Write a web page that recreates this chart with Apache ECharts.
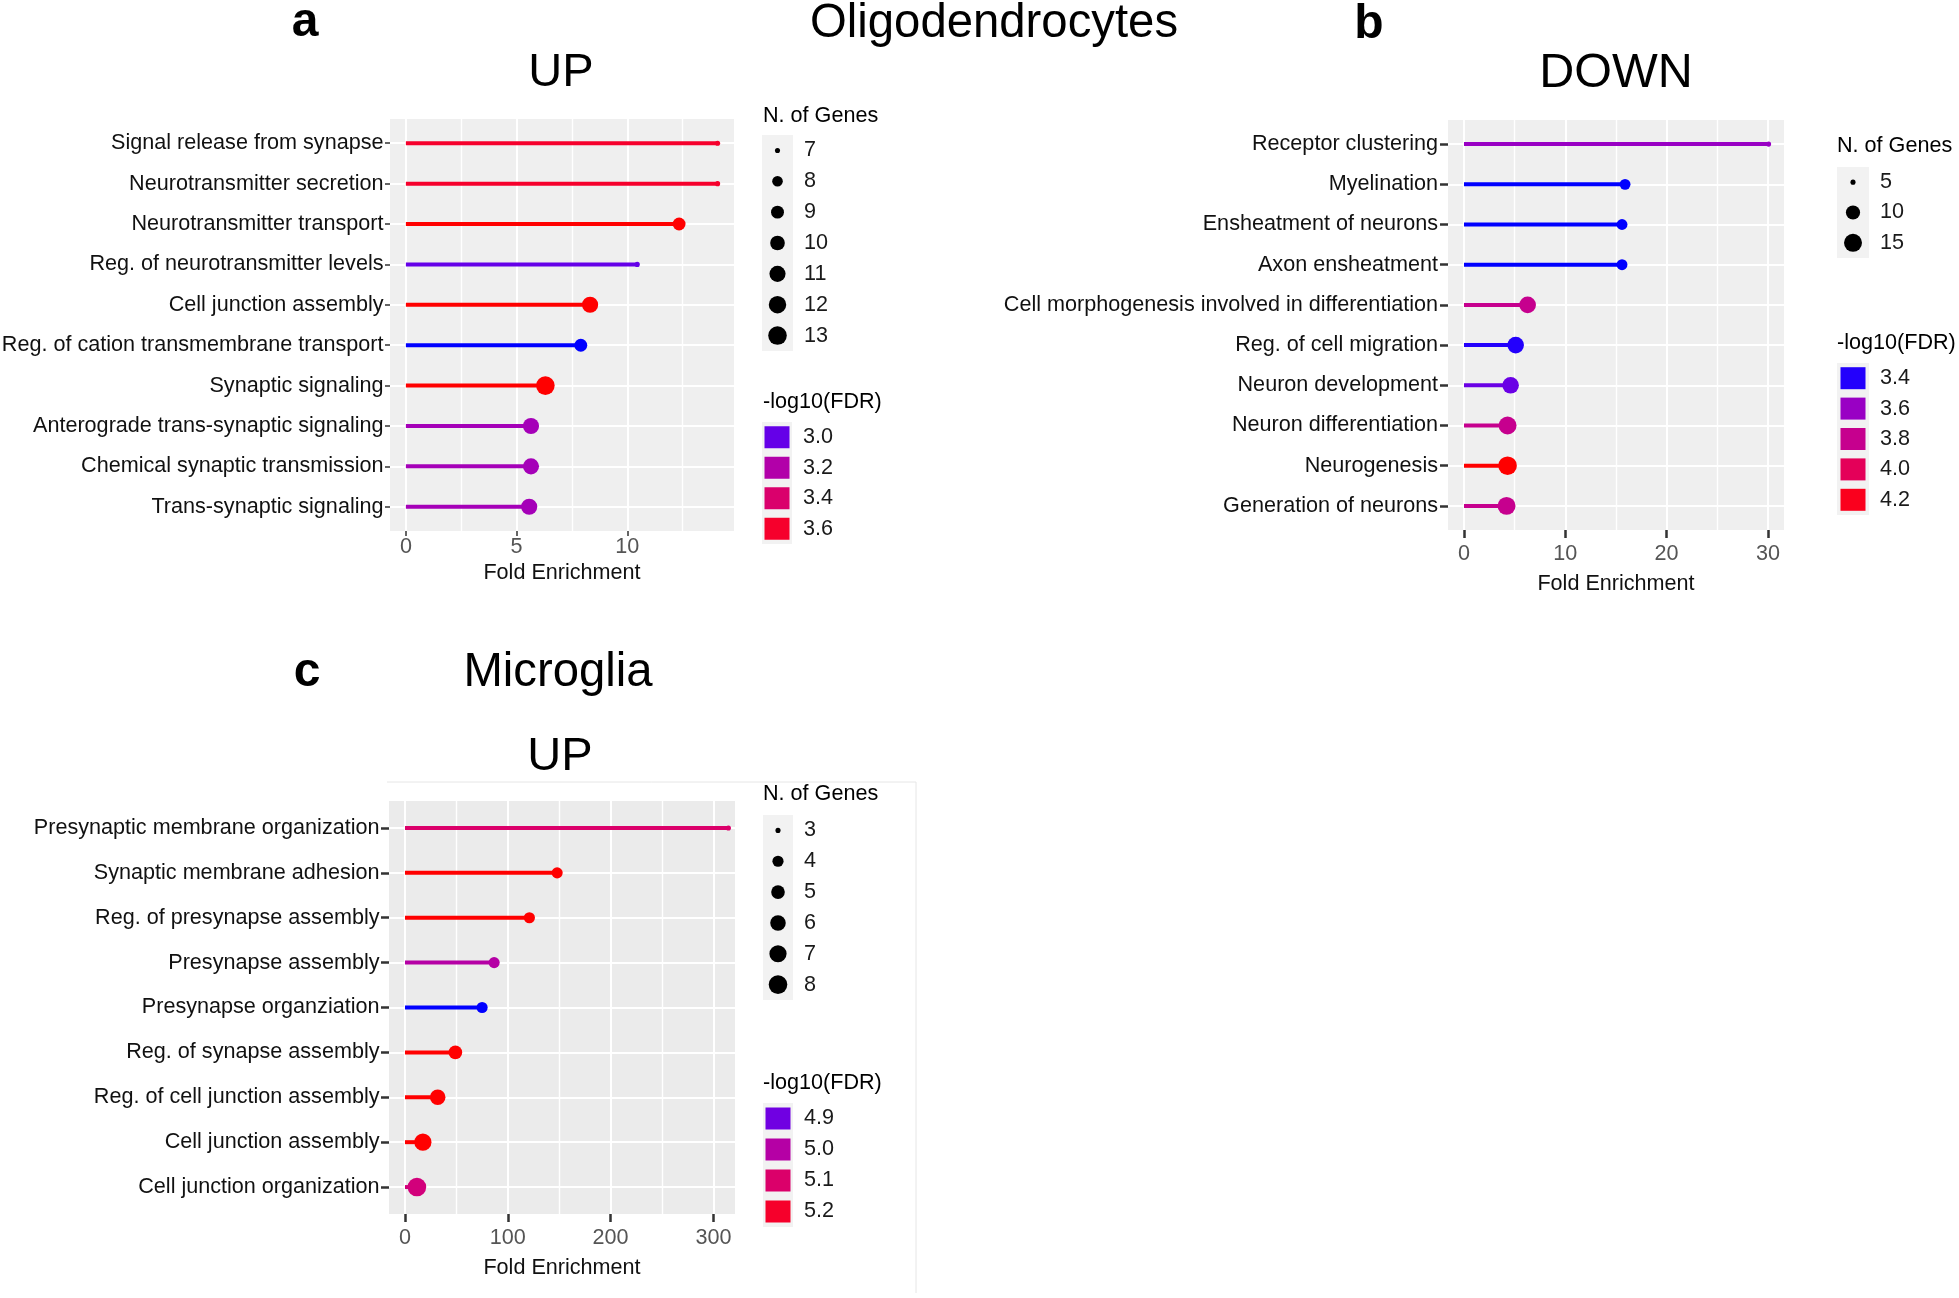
<!DOCTYPE html>
<html><head><meta charset="utf-8">
<script src="https://cdn.jsdelivr.net/npm/echarts@6/dist/echarts.min.js"></script>
<style>html,body{margin:0;padding:0;background:#fff}#c{width:1959px;height:1298px}</style>
</head><body><div id="c"></div>
<script>
// ---------- DATA ----------
// Panel a: Oligodendrocytes UP
const aTerms = ["Signal release from synapse","Neurotransmitter secretion","Neurotransmitter transport","Reg. of neurotransmitter levels","Cell junction assembly","Reg. of cation transmembrane transport","Synaptic signaling","Anterograde trans-synaptic signaling","Chemical synaptic transmission","Trans-synaptic signaling"];
const aFold  = [14.08, 14.08, 12.34, 10.45, 8.32, 7.9, 6.3, 5.65, 5.65, 5.57];
const aGenes = [7, 7, 9, 7, 11, 9, 13, 11, 11, 11];
const aFdr   = [3.6, 3.6, 3.68, 3.0, 3.68, 2.93, 3.68, 3.15, 3.15, 3.15];
const aSizeBreaks  = [7, 8, 9, 10, 11, 12, 13];
const aColorBreaks = [3.0, 3.2, 3.4, 3.6];
const aMajor = [0, 5, 10];
const aMinor = [2.5, 7.5, 12.5];

// Panel b: Oligodendrocytes DOWN
const bTerms = ["Receptor clustering","Myelination","Ensheatment of neurons","Axon ensheatment","Cell morphogenesis involved in differentiation","Reg. of cell migration","Neuron development","Neuron differentiation","Neurogenesis","Generation of neurons"];
const bFold  = [30.07, 15.9, 15.6, 15.6, 6.28, 5.1, 4.6, 4.3, 4.3, 4.2];
const bGenes = [5, 7, 7, 7, 13, 13, 13, 15, 16, 15];
const bFdr   = [3.6, 3.39, 3.39, 3.39, 3.8, 3.4, 3.48, 3.8, 4.25, 3.8];
const bSizeBreaks  = [5, 10, 15];
const bColorBreaks = [3.4, 3.6, 3.8, 4.0, 4.2];
const bMajor = [0, 10, 20, 30];
const bMinor = [5, 15, 25];

// Panel c: Microglia UP
const cTerms = ["Presynaptic membrane organization","Synaptic membrane adhesion","Reg. of presynapse assembly","Presynapse assembly","Presynapse organziation","Reg. of synapse assembly","Reg. of cell junction assembly","Cell junction assembly","Cell junction organization"];
const cFold  = [314.6, 148, 121, 86.7, 75, 49, 31.8, 17.4, 11.6];
const cGenes = [3, 4, 4, 4, 4, 5, 6, 7, 8];
const cFdr   = [5.1, 5.24, 5.24, 5.0, 4.855, 5.24, 5.24, 5.24, 5.07];
const cSizeBreaks  = [3, 4, 5, 6, 7, 8];
const cColorBreaks = [4.9, 5.0, 5.1, 5.2];
const cMajor = [0, 100, 200, 300];
const cMinor = [50, 150, 250];

// ---------- HELPERS ----------
const FONT = 'Liberation Sans, Arial, Helvetica, sans-serif';
function lin(c){c/=255;return c<=0.04045?c/12.92:Math.pow((c+0.055)/1.055,2.4);}
function gam(c){c=c<=0.0031308?12.92*c:1.055*Math.pow(Math.max(c,0),1/2.4)-0.055;return Math.round(Math.max(0,Math.min(1,c))*255);}
function toLab(rgb){
  const R=lin(rgb[0]),G=lin(rgb[1]),B=lin(rgb[2]);
  const X=(0.4124564*R+0.3575761*G+0.1804375*B)/0.95047;
  const Y=(0.2126729*R+0.7151522*G+0.0721750*B);
  const Z=(0.0193339*R+0.1191920*G+0.9503041*B)/1.08883;
  const f=t=>t>0.008856?Math.cbrt(t):7.787*t+16/116;
  const fx=f(X),fy=f(Y),fz=f(Z);
  return [116*fy-16,500*(fx-fy),200*(fy-fz)];
}
function fromLab(L,a,b){
  const fy=(L+16)/116, fx=fy+a/500, fz=fy-b/200;
  const inv=t=>{const t3=t*t*t;return t3>0.008856?t3:(t-16/116)/7.787;};
  const X=0.95047*inv(fx),Y=inv(fy),Z=1.08883*inv(fz);
  const R=3.2404542*X-1.5371385*Y-0.4985314*Z;
  const G=-0.9692660*X+1.8760108*Y+0.0415560*Z;
  const B=0.0556434*X-0.2040259*Y+1.0572252*Z;
  return 'rgb('+gam(R)+','+gam(G)+','+gam(B)+')';
}
const LOW=toLab([0,0,255]), HIGH=toLab([255,0,0]);
function fdrColor(v,lim){
  let t=(v-lim[0])/(lim[1]-lim[0]); t=Math.max(0,Math.min(1,t));
  return fromLab(LOW[0]+(HIGH[0]-LOW[0])*t, LOW[1]+(HIGH[1]-LOW[1])*t, LOW[2]+(HIGH[2]-LOW[2])*t);
}
function dotSize(g,lim){
  const t=Math.max(0,(g-lim[0])/(lim[1]-lim[0]));
  return 2.7*(1+5*Math.sqrt(t))+2.4;
}
function range(arr){return [Math.min.apply(null,arr),Math.max.apply(null,arr)];}

const grids=[], xAxes=[], yAxes=[], series=[];
const LBL=21.6;

function addPanel(p){
  const gi=grids.length;
  grids.push({left:p.box[0],top:p.box[1],width:p.box[2],height:p.box[3],show:true,backgroundColor:p.bg,borderWidth:0,containLabel:false,outerBoundsMode:'none'});
  const xi=xAxes.length;
  const n=p.terms.length;
  const idx=p.terms.map((t,i)=>i+1);
  xAxes.push({type:'value',gridIndex:gi,min:p.xmin,max:p.xmax,
    axisLine:{show:false,onZero:false},
    axisTick:{show:true,length:p.tickLen,lineStyle:{color:'#333',width:p.tickW},customValues:p.major},
    axisLabel:{customValues:p.major,margin:p.xLabelMargin,fontSize:LBL,color:'#555',fontFamily:FONT},
    splitLine:{show:true,lineStyle:{color:'#ffffff',width:2}},
    name:'Fold Enrichment',nameLocation:'middle',nameGap:p.nameGap,nameMoveOverlap:false,
    nameTextStyle:{fontSize:LBL,color:'#111',fontFamily:FONT}});
  xAxes.push({type:'value',gridIndex:gi,min:p.xmin,max:p.xmax,
    axisLine:{show:false,onZero:false},
    axisTick:{show:false,customValues:p.minor},
    axisLabel:{show:false,customValues:p.minor},
    splitLine:{show:true,lineStyle:{color:'#ffffff',width:1.4}}});
  const yi=yAxes.length;
  yAxes.push({type:'value',gridIndex:gi,min:0.4,max:n+0.6,inverse:true,
    axisLine:{show:false,onZero:false},
    axisTick:{show:true,length:p.tickLen,lineStyle:{color:'#333',width:p.tickW},customValues:idx},
    axisLabel:{customValues:idx,formatter:v=>p.terms[Math.round(v)-1]||'',margin:p.yLabelMargin,fontSize:LBL,color:'#111',fontFamily:FONT},
    splitLine:{show:true,lineStyle:{color:'#ffffff',width:2}}});
  const data=p.terms.map((t,i)=>[p.fold[i],i+1,p.genes[i],p.fdr[i]]);
  const clim=range(p.fdr), slim=range(p.genes);
  series.push({type:'custom',xAxisIndex:xi,yAxisIndex:yi,data:data,encode:{x:0,y:1},silent:true,z:3,
    renderItem:(params,api)=>{
      const v=api.value(0), y=api.value(1), f=api.value(3);
      const p0=api.coord([0,y]), p1=api.coord([v,y]);
      return {type:'line',shape:{x1:p0[0],y1:p0[1],x2:p1[0],y2:p1[1]},style:{stroke:fdrColor(f,clim),lineWidth:4}};
    }});
  series.push({type:'scatter',xAxisIndex:xi,yAxisIndex:yi,data:data,z:4,silent:true,
    symbol:'circle',symbolSize:v=>dotSize(v[2],slim),
    itemStyle:{color:pp=>fdrColor(pp.value[3],clim),opacity:1}});
  addLegend(p.sizeBreaks.map(String), p.sizeBreaks.map(b=>dotSize(b,slim)), p.sizeBreaks.map(()=> '#000'), 'circle', p.sizeBox);
  addLegend(p.colorBreaks.map(b=>b.toFixed(1)), p.colorBreaks.map(()=>[25,22]), p.colorBreaks.map(b=>fdrColor(b,clim)), 'rect', p.colorBox);
}

function addLegend(labels,sizes,colors,symbol,box){
  const gi=grids.length;
  grids.push({left:box[0],top:box[1],width:box[2],height:box[3],show:true,backgroundColor:'#f2f2f2',borderWidth:0,containLabel:false,outerBoundsMode:'none'});
  const xi=xAxes.length, yi=yAxes.length;
  xAxes.push({type:'value',gridIndex:gi,min:0,max:1,show:false});
  yAxes.push({type:'category',gridIndex:gi,data:labels,inverse:true,position:'right',
    axisLine:{show:false},axisTick:{show:false},splitLine:{show:false},
    axisLabel:{margin:11,fontSize:LBL,color:'#1a1a1a',fontFamily:FONT,interval:0}});
  series.push({type:'scatter',xAxisIndex:xi,yAxisIndex:yi,silent:true,symbol:symbol,
    itemStyle:{opacity:1},
    data:labels.map((l,i)=>({value:[0.5,i],symbolSize:sizes[i],itemStyle:{color:colors[i],opacity:1}}))});
}

addPanel({terms:aTerms,fold:aFold,genes:aGenes,fdr:aFdr,box:[390,119,344,412],bg:'#efefef',
  xmin:-0.718,xmax:14.82,major:aMajor,minor:aMinor,tickLen:5,tickW:1.5,xLabelMargin:5,yLabelMargin:6.5,nameGap:31,
  sizeBreaks:aSizeBreaks,colorBreaks:aColorBreaks,sizeBox:[762,135,31,216],colorBox:[762,422,30,122]});
addPanel({terms:bTerms,fold:bFold,genes:bGenes,fdr:bFdr,box:[1448,120,336,410],bg:'#efefef',
  xmin:-1.58,xmax:31.59,major:bMajor,minor:bMinor,tickLen:8,tickW:2.5,xLabelMargin:13,yLabelMargin:10,nameGap:43,
  sizeBreaks:bSizeBreaks,colorBreaks:bColorBreaks,sizeBox:[1837,167,32,91],colorBox:[1837,363,32,152]});
addPanel({terms:cTerms,fold:cFold,genes:cGenes,fdr:cFdr,box:[389,801,346,413],bg:'#ebebeb',
  xmin:-15.56,xmax:321,major:cMajor,minor:cMinor,tickLen:8,tickW:2.5,xLabelMargin:13,yLabelMargin:9.5,nameGap:43,
  sizeBreaks:cSizeBreaks,colorBreaks:cColorBreaks,sizeBox:[763,815,30,185],colorBox:[763,1103,30,124]});

function txt(s,x,y,size,bold,align){
  return {type:'text',silent:true,style:{text:s,x:x,y:y,fill:'#000',font:(bold?'bold ':'')+size+'px '+FONT,
    textAlign:align||'center',align:align||'center',textVerticalAlign:'middle',verticalAlign:'middle'}};
}
const graphics=[
  txt('a',305,23,48,true), txt('Oligodendrocytes',994,23.5,47.3,false), txt('UP',561,73.5,47,false),
  txt('b',1369,24.5,48,true), txt('DOWN',1616,73.5,48.5,false),
  txt('c',307,673,48,true), txt('Microglia',558,673,47.3,false), txt('UP',560,757.5,47,false),
  txt('N. of Genes',763,116,LBL,false,'left'), txt('-log10(FDR)',763,402,LBL,false,'left'),
  txt('N. of Genes',1837,146,LBL,false,'left'), txt('-log10(FDR)',1837,343,LBL,false,'left'),
  txt('N. of Genes',763,794,LBL,false,'left'), txt('-log10(FDR)',763,1083,LBL,false,'left'),
  {type:'line',silent:true,shape:{x1:387,y1:782,x2:916,y2:782},style:{stroke:'#e6e6e6',lineWidth:1}},
  {type:'line',silent:true,shape:{x1:916,y1:782,x2:916,y2:1293},style:{stroke:'#e6e6e6',lineWidth:1}}
];

const chart=echarts.init(document.getElementById('c'),null,{renderer:'canvas',width:1959,height:1298});
chart.setOption({animation:false,backgroundColor:'#ffffff',textStyle:{fontFamily:FONT},
  grid:grids,xAxis:xAxes,yAxis:yAxes,series:series,graphic:{elements:graphics}});
</script></body></html>
